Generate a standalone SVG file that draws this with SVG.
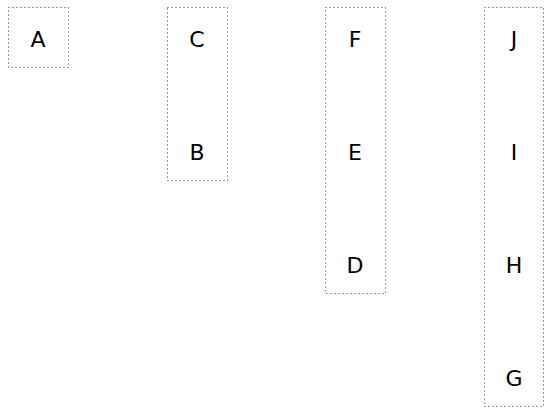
<svg xmlns="http://www.w3.org/2000/svg" width="545" height="408" viewBox="0 0 545 408">
<style>
.c{fill:none;stroke:#333;stroke-width:1;stroke-dasharray:1 3}
text{font-family:"DejaVu Sans",sans-serif;font-size:22px;fill:#000;text-anchor:middle;dominant-baseline:central}
</style>
<rect width="545" height="408" fill="#fff"/>
<g id="cluster1"><rect class="c" x="8.5" y="7.5" width="60" height="60"/></g>
<g id="cluster2"><rect class="c" x="167.5" y="7.5" width="60" height="173"/></g>
<g id="cluster3"><rect class="c" x="325.5" y="7.5" width="60" height="286"/></g>
<g id="cluster4"><rect class="c" x="484.5" y="7.5" width="59" height="399"/></g>
<g id="A"><text x="38" y="39">A</text></g>
<g id="C"><text x="197" y="39">C</text></g>
<g id="B"><text x="197" y="152">B</text></g>
<g id="F"><text x="355" y="39">F</text></g>
<g id="E"><text x="355" y="152">E</text></g>
<g id="D"><text x="355" y="265">D</text></g>
<g id="J"><text x="514" y="39">J</text></g>
<g id="I"><text x="514" y="152">I</text></g>
<g id="H"><text x="514" y="265">H</text></g>
<g id="G"><text x="514" y="378">G</text></g>
<g id="edges"></g>
</svg>
